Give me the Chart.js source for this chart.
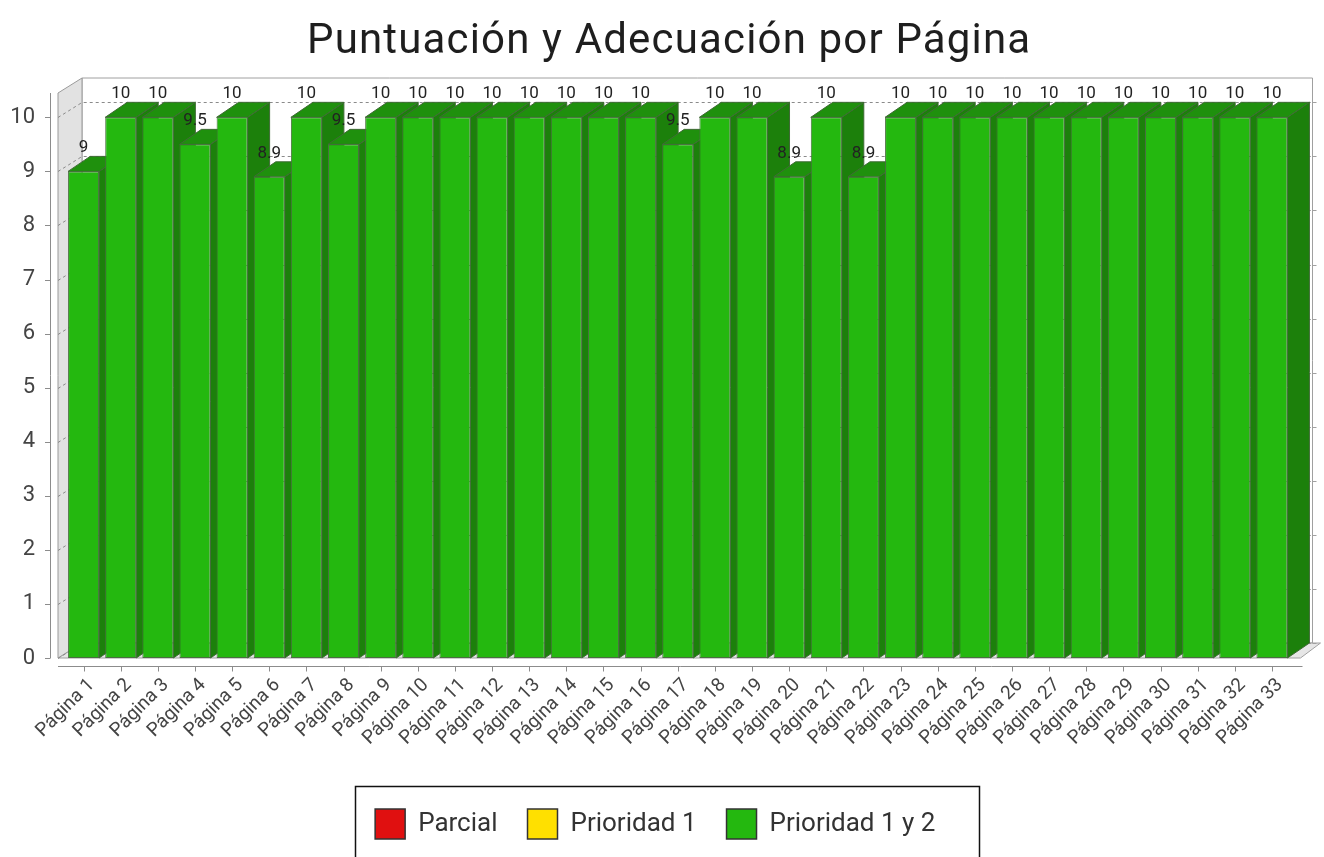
<!DOCTYPE html>
<html><head><meta charset="utf-8">
<script src="https://cdn.jsdelivr.net/npm/chart.js@4.4.1/dist/chart.umd.min.js"></script>
<style>html,body{margin:0;padding:0;background:#fff;overflow:hidden}#wrap{width:1324px;height:866px;position:relative}</style>
</head><body><div id="wrap"><canvas id="c" width="1324" height="866"></canvas></div>
<script>
const titleText = 'Puntuación y Adecuación por Página';
const categories = ['Página 1','Página 2','Página 3','Página 4','Página 5','Página 6','Página 7','Página 8','Página 9','Página 10','Página 11','Página 12','Página 13','Página 14','Página 15','Página 16','Página 17','Página 18','Página 19','Página 20','Página 21','Página 22','Página 23','Página 24','Página 25','Página 26','Página 27','Página 28','Página 29','Página 30','Página 31','Página 32','Página 33'];
const seriesNames = ['Parcial','Prioridad 1','Prioridad 1 y 2'];
const parcial = [];
const prioridad1 = [];
const prioridad12 = [9,10,10,9.5,10,8.9,10,9.5,10,10,10,10,10,10,10,10,9.5,10,10,8.9,10,8.9,10,10,10,10,10,10,10,10,10,10,10];
const yTicks = [0,1,2,3,4,5,6,7,8,9,10];
const seriesColors = ['#e01010','#ffe000','#24b80f'];

const DX = 22, DY = 15;
function poly(ctx, pts, fill, stroke){
  ctx.beginPath();
  pts.forEach((p,i)=> i ? ctx.lineTo(p[0],p[1]) : ctx.moveTo(p[0],p[1]));
  ctx.closePath();
  if (fill){ ctx.fillStyle = fill; ctx.fill(); }
  if (stroke){ ctx.strokeStyle = stroke; ctx.lineWidth = 1; ctx.stroke(); }
}
const threeD = {
  id: 'threeD',
  afterLayout(chart){
    const lg = chart.legend;
    if (lg){ lg.left += 10; lg.right += 10; }
  },
  beforeDatasetsDraw(chart){
    const {ctx, chartArea:a, scales:{y}} = chart;
    const wf = a.left - 7, wb = wf + 24, R = a.right + DX;
    ctx.save();
    poly(ctx, [[wb,a.top-DY],[R,a.top-DY],[R,a.bottom-DY],[wb,a.bottom-DY]], '#ffffff', '#a0a0a0');
    poly(ctx, [[wf,a.bottom],[a.right+10,a.bottom],[R+8,a.bottom-DY],[wb,a.bottom-DY]], '#e6e6e6', '#a0a0a0');
    poly(ctx, [[wf,a.bottom],[wf,a.top],[wb,a.top-DY],[wb,a.bottom-DY]], '#e2e2e2', '#9a9a9a');
    ctx.setLineDash([3,3]);
    ctx.strokeStyle = '#8a8a8a'; ctx.lineWidth = 1;
    yTicks.forEach(v=>{
      const yy = Math.round(y.getPixelForValue(v)) + 0.5;
      ctx.beginPath(); ctx.moveTo(wf, yy); ctx.lineTo(wb, yy-DY); ctx.lineTo(R, yy-DY); ctx.stroke();
    });
    ctx.setLineDash([]);
    ctx.strokeStyle = '#a0a0a0';
    yTicks.forEach(v=>{
      const yy = Math.round(y.getPixelForValue(v)) + 0.5 - DY;
      ctx.beginPath(); ctx.moveTo(R, yy); ctx.lineTo(R+4, yy); ctx.stroke();
    });
    const meta = chart.getDatasetMeta(2);
    meta.data.forEach(bar=>{
      const p = bar.getProps(['x','y','base','width'], true);
      if (p.y == null || isNaN(p.y)) return;
      const l = p.x - p.width/2, r = p.x + p.width/2, t = p.y, b = p.base;
      poly(ctx, [[r,t],[r+DX,t-DY],[r+DX,b-DY],[r,b]], '#1c800b', '#3f6a35');
      poly(ctx, [[l,t],[l+DX,t-DY],[r+DX,t-DY],[r,t]], '#1f900d', '#3f6a35');
    });
    ctx.restore();
  },
  afterDatasetsDraw(chart){
    const {ctx, chartArea:a, scales:{x,y}} = chart;
    const wf = a.left - 7;
    ctx.save();
    const meta = chart.getDatasetMeta(2);
    ctx.font = '17px Roboto'; ctx.fillStyle = '#222'; ctx.textAlign = 'center'; ctx.textBaseline = 'alphabetic';
    meta.data.forEach((bar,i)=>{
      const p = bar.getProps(['x','y'], true);
      ctx.fillText(String(prioridad12[i]), p.x, p.y - DY - 4);
    });
    ctx.strokeStyle = '#8c8c8c'; ctx.lineWidth = 1;
    ctx.beginPath(); ctx.moveTo(50.5, a.top); ctx.lineTo(50.5, a.bottom); ctx.stroke();
    yTicks.forEach(v=>{
      const yy = Math.round(y.getPixelForValue(v)) + 0.5;
      ctx.beginPath(); ctx.moveTo(45, yy); ctx.lineTo(50.5, yy); ctx.stroke();
    });
    const xy = a.bottom + 8.5;
    ctx.beginPath(); ctx.moveTo(wf, xy); ctx.lineTo(a.right + 12, xy); ctx.stroke();
    categories.forEach((c,i)=>{
      const xx = Math.round(x.getPixelForValue(i)) + 0.5;
      ctx.beginPath(); ctx.moveTo(xx, xy); ctx.lineTo(xx, xy + 5); ctx.stroke();
    });
    ctx.restore();
  },
  afterDraw(chart){
    const ctx = chart.ctx;
    ctx.save();
    ctx.font = '42px Roboto'; ctx.fillStyle = '#1e1e1e'; ctx.textBaseline = 'alphabetic'; ctx.textAlign = 'left';
    const w0 = ctx.measureText(titleText).width;
    const targetW = 723;
    const sp = Math.max(-1, Math.min(1.5, (targetW - w0) / (titleText.length - 1)));
    ctx.letterSpacing = sp.toFixed(2) + 'px';
    ctx.fillText(titleText, 668.5 - targetW/2, 53);
    ctx.restore();
    const lg = chart.legend; if (!lg || !lg.legendHitBoxes) return;
    const hb = lg.legendHitBoxes;
    const L = Math.min(...hb.map(h=>h.left)), Rr = Math.max(...hb.map(h=>h.left + h.width));
    const cy = hb[0].top + hb[0].height/2;
    ctx.save();
    ctx.strokeStyle = '#111'; ctx.lineWidth = 1.5;
    ctx.strokeRect(Math.round(L - 20) + 0.5, Math.round(cy - 38) + 0.5, Math.round(Rr - L + 64), 76);
    ctx.restore();
  }
};

new Chart(document.getElementById('c'), {
  type: 'bar',
  data: {
    labels: categories,
    datasets: [
      {label: seriesNames[0], data: parcial, backgroundColor: seriesColors[0]},
      {label: seriesNames[1], data: prioridad1, backgroundColor: seriesColors[1]},
      {label: seriesNames[2], data: prioridad12, backgroundColor: seriesColors[2], borderColor: '#4a7040', borderWidth: 1, borderSkipped: false}
    ]
  },
  options: {
    responsive: false, animation: false, devicePixelRatio: 1,
    layout: {padding: {left: 0, right: 33.5, top: 93, bottom: 17}},
    datasets: {bar: {barPercentage: 0.835, categoryPercentage: 1}},
    scales: {
      x: {
        stacked: true,
        grid: {display: false, drawTicks: false}, border: {display: false},
        ticks: {minRotation: 45, maxRotation: 45, autoSkip: false, padding: 16, labelOffset: 8, color: '#444', font: {family: 'Roboto', size: 19}},
        afterFit(s){ s.height = 121; }
      },
      y: {
        stacked: true, min: 0, max: 10.45,
        grid: {display: false, drawTicks: false}, border: {display: false},
        ticks: {stepSize: 1, padding: 30, color: '#444', font: {family: 'Roboto', size: 22}},
        afterBuildTicks(s){ s.ticks = yTicks.map(v=>({value: v})); },
        afterFit(s){ s.width = 65; }
      }
    },
    plugins: {
      title: {display: false},
      legend: {
        position: 'bottom',
        labels: {
          boxWidth: 30, boxHeight: 30, padding: 30, color: '#333', font: {family: 'Roboto', size: 26},
          generateLabels: () => seriesNames.map((n,i)=>({text: n, fillStyle: seriesColors[i], strokeStyle: '#333', lineWidth: 1.5, hidden: false, datasetIndex: i, fontColor: '#333'}))
        }
      },
      tooltip: {enabled: false}
    }
  },
  plugins: [threeD]
});
</script></body></html>
